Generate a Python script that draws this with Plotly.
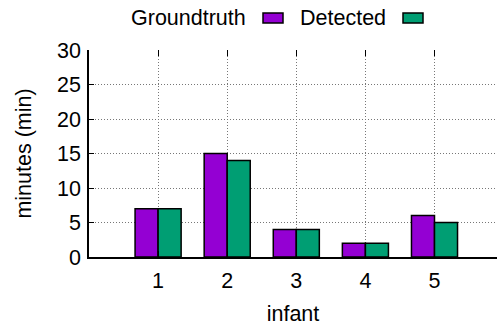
import plotly.graph_objects as go

infants = [1, 2, 3, 4, 5]
groundtruth = [7, 15, 4, 2, 6]
detected = [7, 14, 4, 2, 5]
series_names = ["Groundtruth", "Detected"]
colors = ["#9400D3", "#009E73"]
y_ticks = [0, 5, 10, 15, 20, 25, 30]

FONT = "Liberation Sans, Arial, sans-serif"
FS = 21.5

W, H = 497, 326
ml, mt = 89, 50
mb = H - 257
plot_w = W - ml
plot_h = H - mt - mb
unit = 69.1


def px_x(px):
    return (px - ml) / plot_w


def px_y(py):
    return (H - mb - py) / plot_h


fig = go.Figure()
for name, vals, col in zip(series_names, [groundtruth, detected], colors):
    fig.add_trace(go.Bar(
        x=infants, y=vals, name=name,
        marker=dict(color=col, line=dict(color="black", width=1.5)),
        showlegend=False,
    ))

# legend drawn gnuplot-style: text then colour box
legend_text_x = [248, 388]   # right edges of labels in px
legend_box_x = [263, 403]
for name, col, tx, bx in zip(series_names, colors, legend_text_x, legend_box_x):
    fig.add_annotation(
        x=px_x(tx), y=px_y(18.5), xref="paper", yref="paper",
        text=name, showarrow=False, xanchor="right", yanchor="middle",
        font=dict(family=FONT, size=FS, color="black"),
    )
    fig.add_shape(
        type="rect", xref="paper", yref="paper",
        x0=px_x(bx), x1=px_x(bx + 20), y0=px_y(23), y1=px_y(13),
        fillcolor=col, line=dict(color="black", width=1.5),
    )

grid = dict(showgrid=True, gridcolor="#777", griddash="1px,2px", gridwidth=1)

fig.update_layout(
    width=W, height=H,
    margin=dict(l=ml, r=0, t=mt, b=mb, pad=0),
    paper_bgcolor="white", plot_bgcolor="white",
    barmode="group", bargap=1/3, bargroupgap=0,
    font=dict(family=FONT, size=FS, color="black"),
    xaxis=dict(
        range=[0, plot_w / unit], tickvals=infants,
        ticks="inside", ticklen=6, tickcolor="black", tickwidth=1,
        showline=True, linecolor="black", linewidth=1.5,
        zeroline=False, ticklabelstandoff=3,
        title=dict(text="infant", standoff=16, font=dict(family=FONT, size=FS)),
        tickfont=dict(size=FS),
        **grid,
    ),
    xaxis2=dict(
        overlaying="x", side="top", matches="x", tickvals=infants,
        ticks="inside", ticklen=6, tickcolor="black", tickwidth=1,
        showticklabels=False, showgrid=False, showline=False, zeroline=False,
    ),
    yaxis=dict(
        range=[0, 30], tickvals=y_ticks,
        ticks="inside", ticklen=5, tickcolor="black", tickwidth=1,
        showline=True, linecolor="black", linewidth=1.5,
        zeroline=False, ticklabelstandoff=2,
        title=dict(text="minutes (min)", standoff=20, font=dict(family=FONT, size=FS)),
        tickfont=dict(size=FS),
        **grid,
    ),
)
fig.add_trace(go.Scatter(x=[None], y=[None], xaxis="x2", showlegend=False, hoverinfo="skip"))

fig.write_html("out.html")
